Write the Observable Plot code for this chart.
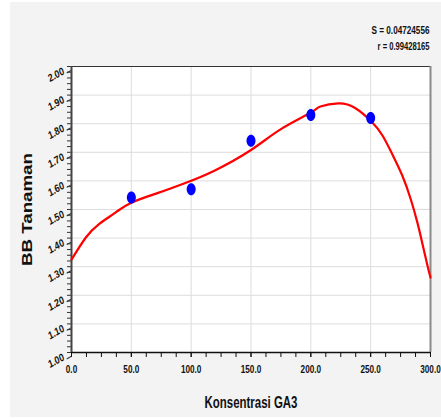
<!DOCTYPE html>
<html>
<head>
<meta charset="utf-8">
<script src="https://cdn.jsdelivr.net/npm/d3@7"></script>
<script src="https://cdn.jsdelivr.net/npm/@observablehq/plot@0.6"></script>
<style>
  body { margin: 0; background: #ffffff; }
  #wrap { position: relative; width: 441px; height: 418px; overflow: hidden; }
  #panel { position: absolute; left: 10px; top: 2px; width: 431px; height: 415px; background: #f3f3f3; }
  #chart { position: absolute; left: 10px; top: 2px; }
</style>
</head>
<body>
<div id="wrap">
  <div id="panel"></div>
  <div id="chart"></div>
</div>
<script>
// Observed points (Konsentrasi GA3 vs BB Tanaman)
const pointX = [50, 100, 150, 200, 250];
const pointY = [1.542, 1.571, 1.740, 1.830, 1.820];

// Fitted curve, values
const curveX = [0, 12, 23, 37, 50, 73, 94, 119, 150, 175, 200, 208, 223, 237, 251, 260, 268, 276.5, 283.5, 289, 293, 297.5, 300];
const curveY = [1.325, 1.402, 1.449, 1.490, 1.524, 1.559, 1.591, 1.635, 1.708, 1.781, 1.839, 1.860, 1.871, 1.855, 1.806, 1.758, 1.694, 1.618, 1.536, 1.455, 1.385, 1.303, 1.262];

// Tick labels
const xTicks = [0, 50, 100, 150, 200, 250, 300];
const yTicks = [1.0, 1.1, 1.2, 1.3, 1.4, 1.5, 1.6, 1.7, 1.8, 1.9, 2.0];

// Annotation texts
const statLines = ["S = 0.04724556", "r = 0.99428165"];
const xTitle = "Konsentrasi GA3";
const yTitle = "BB Tanaman";

const points = pointX.map((x, i) => ({x, y: pointY[i]}));
const curve = curveX.map((x, i) => ({x, y: curveY[i]}));
const xMinor = d3.range(0, 300.01, 12.5);
const yMinor = d3.range(1.0, 2.001, 0.02);

const ellipse = {
  draw(ctx) {
    const rx = 4.5, ry = 6, k = 0.5523;
    ctx.moveTo(rx, 0);
    ctx.bezierCurveTo(rx, ry * k, rx * k, ry, 0, ry);
    ctx.bezierCurveTo(-rx * k, ry, -rx, ry * k, -rx, 0);
    ctx.bezierCurveTo(-rx, -ry * k, -rx * k, -ry, 0, -ry);
    ctx.bezierCurveTo(rx * k, -ry, rx, -ry * k, rx, 0);
    ctx.closePath();
  }
};

const font = '"Liberation Sans", Arial, sans-serif';

const chart = Plot.plot({
  width: 431,
  height: 415,
  marginLeft: 61,
  marginRight: 11,
  marginTop: 64,
  marginBottom: 65,
  style: {background: "transparent", fontFamily: font, overflow: "visible"},
  x: {domain: [0, 300]},
  y: {domain: [1, 2]},
  marks: [
    Plot.frame({fill: "white", stroke: null}),
    Plot.gridX(xTicks.slice(1, -1), {stroke: "#dddddd", strokeOpacity: 1}),
    Plot.gridY(yTicks.slice(1, -1), {stroke: "#dddddd", strokeOpacity: 1}),
    Plot.ruleY([2], {stroke: "#333", strokeWidth: 1}),
    Plot.ruleX([300], {stroke: "#8a8a8a", strokeWidth: 2}),
    Plot.axisX({ticks: xMinor, tickSize: 5, text: null, label: null, stroke: "#111"}),
    Plot.axisX({ticks: xTicks, tickSize: 5, tickPadding: 8, tickFormat: d => d.toFixed(1), label: null,
      fontSize: 10.5, fontWeight: "bold", fill: "#111", stroke: "#111"}),
    Plot.axisY({ticks: yMinor, tickSize: 4, text: null, label: null, stroke: "#333"}),
    Plot.axisY({ticks: yTicks, tickSize: 5, tickPadding: 3, tickFormat: d => d.toFixed(2), label: null,
      fontSize: 10.5, fontWeight: "bold", fontStyle: "italic", rotate: -30, textAnchor: "end", dy: 4,
      fill: "#111", stroke: "#333"}),
    Plot.ruleY([1], {stroke: "#111", strokeWidth: 1.5}),
    Plot.ruleX([0], {stroke: "#444", strokeWidth: 2}),
    Plot.line(curve, {x: "x", y: "y", stroke: "#ff0000", strokeWidth: 2.2, curve: "natural"}),
    Plot.dot(points, {x: "x", y: "y", symbol: ellipse, fill: "#0000ff", stroke: "none"}),
    Plot.text([xTitle], {frameAnchor: "bottom", dy: 55, fontSize: 17, fontWeight: "bold", fill: "#111"}),
    Plot.text([yTitle], {frameAnchor: "left", dx: -44, rotate: -90, textAnchor: "middle", fontSize: 15,
      fontWeight: "bold", fill: "#111"}),
    Plot.text([statLines[0]], {frameAnchor: "top-right", dx: -1, dy: -40, textAnchor: "end", fontSize: 10,
      fontWeight: "bold", fill: "#111"}),
    Plot.text([statLines[1]], {frameAnchor: "top-right", dx: -1, dy: -24, textAnchor: "end", fontSize: 10,
      fontWeight: "bold", fill: "#111"})
  ]
});
document.getElementById("chart").appendChild(chart);

// Condense glyphs horizontally (the reference uses a narrow face):
// scale each text along its own baseline, about its anchor point.
function squeeze(el, sx) {
  const t = el.getAttribute("transform") || "";
  el.setAttribute("transform", (t + ` scale(${sx},1)`).trim());
}
const svg = d3.select(chart);
svg.selectAll('g[aria-label="x-axis tick label"] text').each(function() { squeeze(this, 0.78); });
svg.selectAll('g[aria-label="y-axis tick label"] text').each(function() { squeeze(this, 0.85); });
svg.selectAll("text").each(function() {
  const t = this.textContent;
  const w = this.getComputedTextLength();
  if (t === xTitle) squeeze(this, 93 / w);
  else if (t === yTitle) squeeze(this, 113 / w);
  else if (t === statLines[0]) squeeze(this, 58 / w);
  else if (t === statLines[1]) squeeze(this, 52 / w);
});
</script>
</body>
</html>
